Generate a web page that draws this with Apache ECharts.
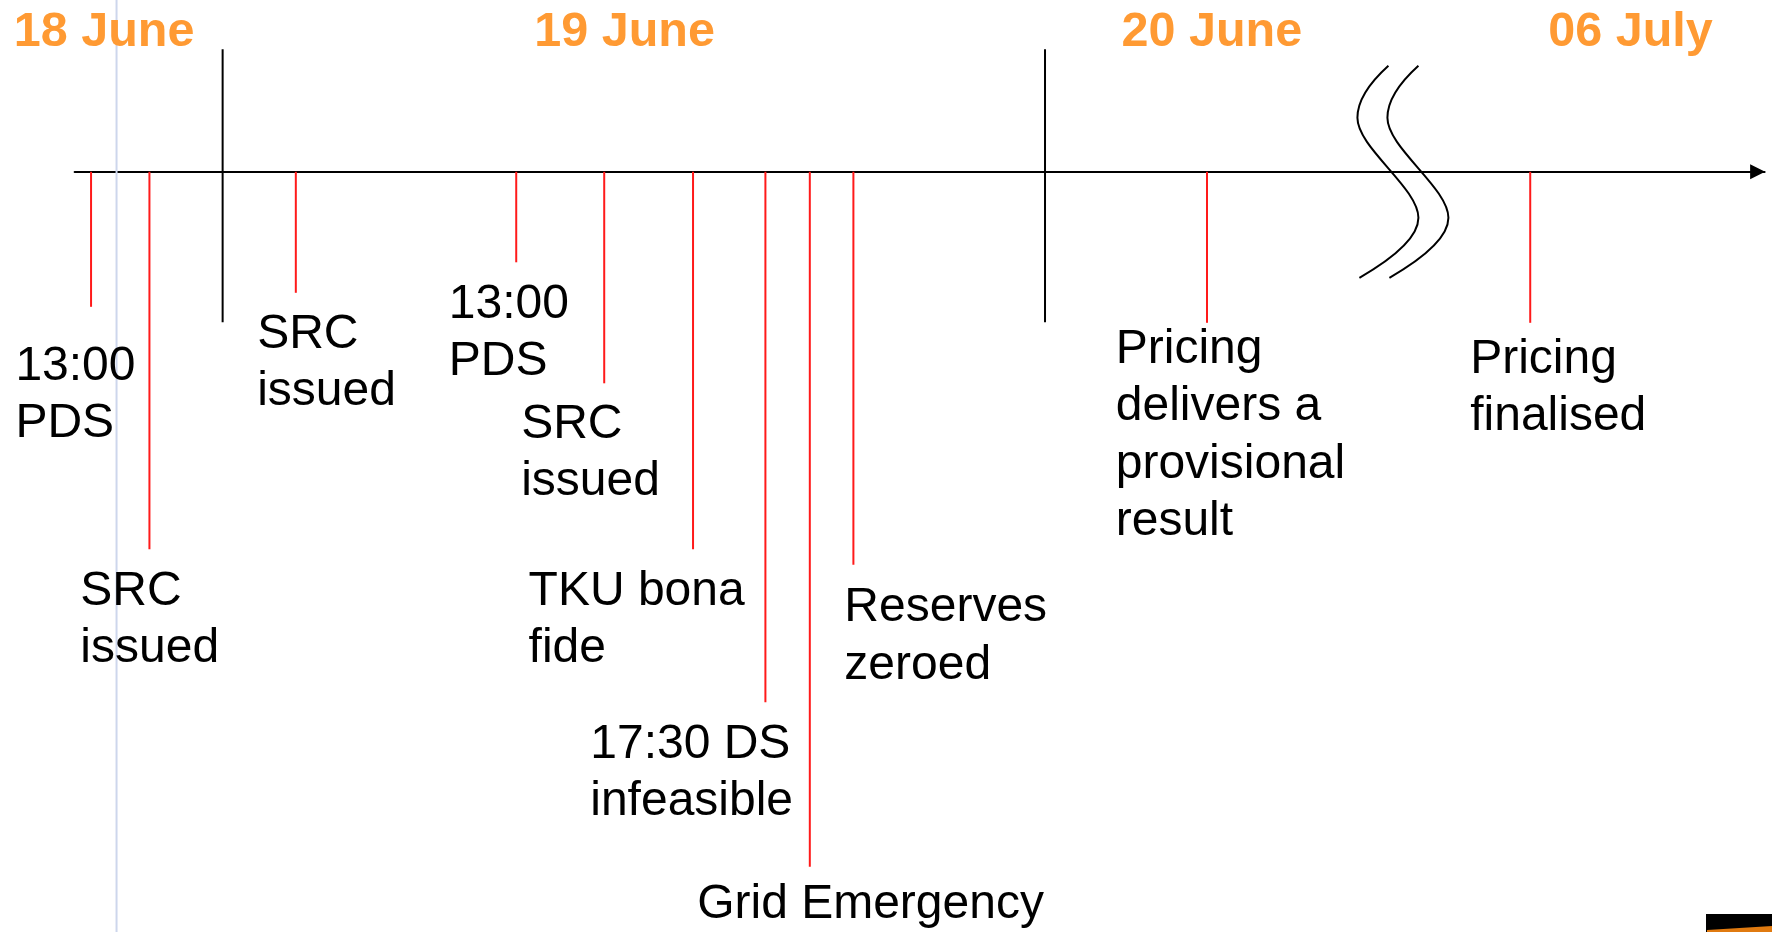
<!DOCTYPE html>
<html>
<head>
<meta charset="utf-8">
<script src="https://cdn.jsdelivr.net/npm/echarts@6/dist/echarts.min.js"></script>
<style>html,body{margin:0;padding:0;background:#fff}#c{width:1772px;height:932px}</style>
</head>
<body>
<div id="c"></div>
<script>
// Schematic timeline. x: position in days (1 = midnight 18/19 June, 2 = midnight 19/20 June; schematic after the break)
// y: depth below the time axis (axis at 0, positive = downwards)
const dayTitles = ['18 June', '19 June', '20 June', '06 July'];
const dayTitleX = [0.746, 1.379, 2.093, 2.612];
const dayTitleY = [-3.18, -3.18, -3.18, -3.18];

const dayBoundaryX = [1.0, 2.0];
const dayBoundaryTop = [-2.45, -2.45];
const dayBoundaryBottom = [3.01, 3.01];

const eventX = [0.840, 0.911, 1.089, 1.357, 1.464, 1.572, 1.660, 1.714, 1.767, 2.197, 2.590];
const eventDepth = [2.70, 7.55, 2.42, 1.81, 4.23, 7.55, 10.61, 13.90, 7.86, 3.02, 3.02];
const eventLabels = ['13:00\nPDS', 'SRC\nissued', 'SRC\nissued', '13:00\nPDS', 'SRC\nissued',
  'TKU bona\nfide', '17:30 DS\ninfeasible', 'Grid Emergency', 'Reserves\nzeroed',
  'Pricing\ndelivers a\nprovisional\nresult', 'Pricing\nfinalised'];
const labelX = [0.748, 0.827, 1.042, 1.275, 1.363, 1.372, 1.447, 1.577, 1.756, 2.086, 2.517];
const labelY = [3.50, 8.00, 2.86, 2.26, 4.66, 8.00, 11.06, 14.26, 8.33, 3.16, 3.36];

const breakX = [2.420];
const frameX = [0.871];
const frameTop = [-3.5];
const frameBottom = [15.3];

const FONT = 'Liberation Sans, Arial, sans-serif';
const FS = 48;
const FS_TITLE = 48.5;
const LH = 57.5;
const CAP_OFFSET = 8.8;

const chart = echarts.init(document.getElementById('c'), null, {renderer: 'canvas'});

function vline(x, y1, y2, api, color, width) {
  const a = api.coord([x, y1]);
  const b = api.coord([x, y2]);
  return {type: 'line', shape: {x1: a[0], y1: a[1], x2: b[0], y2: b[1]},
    style: {stroke: color, lineWidth: width}};
}

const curve = 'M -2 -106 Q -33 -78 -33 -54 C -33 -24 28 16 28 46 Q 28 72 -31 106';

const option = {
  animation: false,
  backgroundColor: '#ffffff',
  grid: {left: 74.6, right: 7.4, top: 21.8, bottom: 10.2, containLabel: false},
  xAxis: {
    type: 'value', min: 0.82, max: 2.875,
    axisLine: {show: true, onZero: true, symbol: ['none', 'triangle'], symbolSize: [15, 15], symbolOffset: [0, -7],
      lineStyle: {color: '#000', width: 2}},
    axisTick: {show: false}, axisLabel: {show: false}, splitLine: {show: false}
  },
  yAxis: {
    type: 'value', inverse: true, min: -3, max: 15, show: false,
    axisLine: {show: false}, axisTick: {show: false}, axisLabel: {show: false}, splitLine: {show: false}
  },
  graphic: [
    {type: 'rect', right: 0, bottom: 0, shape: {width: 66, height: 18}, style: {fill: '#000'}},
    {type: 'polygon', shape: {points: [[1707, 930], [1772, 926], [1772, 932], [1707, 932]]}, style: {fill: '#E07A10'}}
  ],
  series: [
    {
      type: 'custom', name: 'frame', silent: true, z: 1,
      data: frameX.map((x, i) => [x, frameTop[i], frameBottom[i]]),
      renderItem: (params, api) => vline(api.value(0), api.value(1), api.value(2), api, '#cdd6ec', 2)
    },
    {
      type: 'custom', name: 'dayBoundaries', silent: true, z: 3,
      data: dayBoundaryX.map((x, i) => [x, dayBoundaryTop[i], dayBoundaryBottom[i]]),
      renderItem: (params, api) => vline(api.value(0), api.value(1), api.value(2), api, '#000', 2)
    },
    {
      type: 'custom', name: 'events', silent: true, z: 2,
      data: eventX.map((x, i) => [x, eventDepth[i]]),
      renderItem: (params, api) => vline(api.value(0), 0, api.value(1), api, '#FF1A1A', 2)
    },
    {
      type: 'custom', name: 'eventLabels', silent: true, z: 4,
      data: labelX.map((x, i) => [x, labelY[i], i]),
      renderItem: (params, api) => {
        const p = api.coord([api.value(0), api.value(1)]);
        return {type: 'text', style: {text: eventLabels[params.dataIndex], x: p[0], y: p[1] - CAP_OFFSET,
          font: 'normal ' + FS + 'px ' + FONT, lineHeight: LH, fill: '#000', align: 'left', verticalAlign: 'top'}};
      }
    },
    {
      type: 'custom', name: 'dayTitles', silent: true, z: 4,
      data: dayTitleX.map((x, i) => [x, dayTitleY[i], i]),
      renderItem: (params, api) => {
        const p = api.coord([api.value(0), api.value(1)]);
        return {type: 'text', style: {text: dayTitles[params.dataIndex], x: p[0], y: p[1] - CAP_OFFSET,
          font: 'bold ' + FS_TITLE + 'px ' + FONT, lineHeight: LH, fill: '#FF9A33', align: 'left', verticalAlign: 'top'}};
      }
    },
    {
      type: 'custom', name: 'axisBreak', silent: true, z: 5,
      data: breakX.map(x => [x, 0]),
      renderItem: (params, api) => {
        const p = api.coord([api.value(0), api.value(1)]);
        return {type: 'group', x: p[0], y: p[1], children: [
          {type: 'path', shape: {pathData: curve}, style: {fill: 'none', stroke: '#000', lineWidth: 2}},
          {type: 'path', x: 30, shape: {pathData: curve}, style: {fill: 'none', stroke: '#000', lineWidth: 2}}
        ]};
      }
    }
  ]
};
chart.setOption(option);
</script>
</body>
</html>
